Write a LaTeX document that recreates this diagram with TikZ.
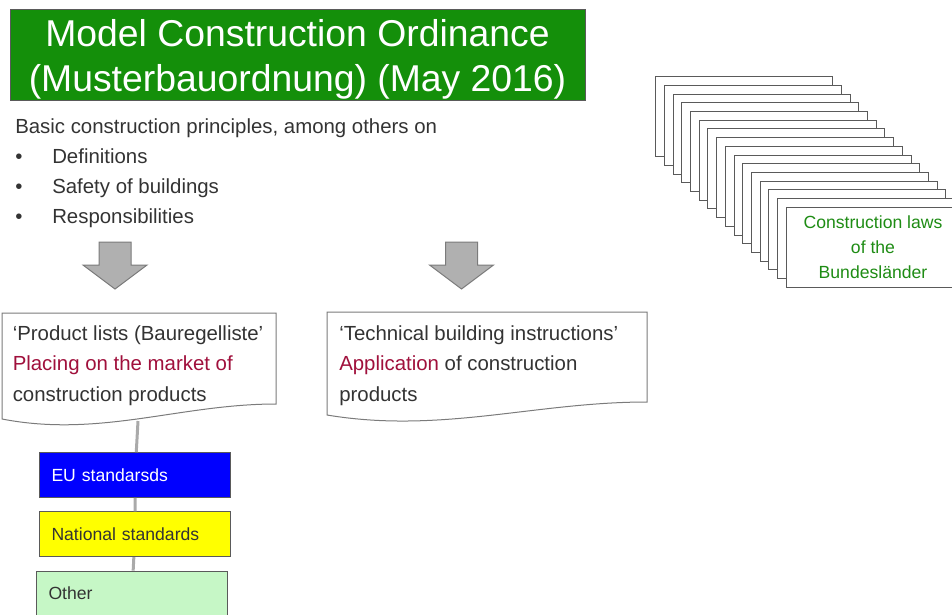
\documentclass[tikz,border=0pt]{standalone}
\usepackage{fontspec}
\setmainfont{Liberation Sans}
\usepackage{xcolor}
\definecolor{ordgreen}{RGB}{20,143,10}
\definecolor{txtgray}{RGB}{51,51,51}
\definecolor{markred}{RGB}{160,16,60}
\definecolor{edgegray}{RGB}{90,90,90}
\definecolor{arrowgray}{RGB}{176,176,176}
\definecolor{linkgray}{RGB}{170,170,170}
\definecolor{eublue}{RGB}{0,0,255}
\definecolor{natyellow}{RGB}{255,255,0}
\definecolor{othergreen}{RGB}{198,247,198}
\definecolor{lawgreen}{RGB}{30,140,20}
\usepackage{tikz}
\tikzset{
  body/.style={font=\fontsize{15.3}{22.7}\selectfont, text=txtgray, inner sep=0pt},
  docline/.style={draw=edgegray!80, fill=white, line width=0.75pt},
  bigarrow/.style={draw=edgegray!80, fill=arrowgray, line width=0.75pt},
  page/.style={draw=edgegray, fill=white, line width=0.75pt},
  stdbox/.style={draw=edgegray, line width=0.75pt, minimum height=33.5pt,
    text width=125.25pt, inner xsep=9pt, align=left,
    font=\fontsize{13.2}{15}\selectfont},
  link/.style={draw=linkgray, line width=2.25pt},
}

\begin{document}
\begin{tikzpicture}[x=0.75pt,y=-0.75pt]
  \useasboundingbox (0,0) rectangle (952,614);
  \clip (0,0) rectangle (952,614);
  \draw[draw=edgegray, fill=ordgreen, line width=0.75pt] (10,9.5) rectangle (585,100);
  \node (title) [text=white, align=center, font=\fontsize{28}{33.75}\selectfont]
    at (297.5,59.5) {Model Construction Ordinance\\(Musterbauordnung) (May 2016)};
  \node (basic) [body, anchor=base west] at (15,133)
    {Basic construction principles, among others on};
  \foreach \txt [count=\i] in {Definitions, Safety of buildings, Responsibilities} {
    \node (bul\i) [body, anchor=base west] at (15,133+30.3*\i) {\textbullet};
    \node (item\i) [body, anchor=base west] at (52,133+30.3*\i) {\txt};
  }
  \foreach \ax in {115,461.5}
    \draw[bigarrow] (\ax-16,242) -- ++(32,0) -- ++(0,23) -- ++(16,0)
      -- ++(-32,24) -- ++(-32,-24) -- ++(16,0) -- cycle;
  \draw[docline] (2,313) -- (276,313) -- (276,404)
    .. controls (180,404) and (100,438) .. (2,419) -- cycle;
  \draw[docline] (327,312) -- (647,312) -- (647,402)
    .. controls (535,402) and (441,434) .. (327,415) -- cycle;
  \coordinate (plistbot) at (138,421);
  \node (plist) [body, anchor=base west, align=left] at (12.5,401)
    {‘Product lists (Bauregelliste’\\\textcolor{markred}{Placing on the market of}\\construction products};
  \node (tbi) [body, anchor=base west, align=left] at (339,401)
    {‘Technical building instructions’\\\textcolor{markred}{Application} of construction\\products};
  \node (eu) [stdbox, fill=eublue, text=white] at (135,475) {EU standarsds};
  \node (nat) [stdbox, fill=natyellow, text=txtgray] at (135,534.3) {National standards};
  \node (other) [stdbox, fill=othergreen, text=txtgray] at (132,593.5) {Other};
  \draw[link] (plistbot) -- (eu) -- (nat) -- (other);
  \foreach \i in {0,...,15}
    \draw[page] (655.7+8.7*\i,76.7+8.7*\i) rectangle ++(177,80);
  \node (laws) [align=center, text=lawgreen, font=\fontsize{13.2}{18.75}\selectfont]
    at (873,247) {Construction laws\\of the\\Bundesländer};
\end{tikzpicture}
\end{document}
